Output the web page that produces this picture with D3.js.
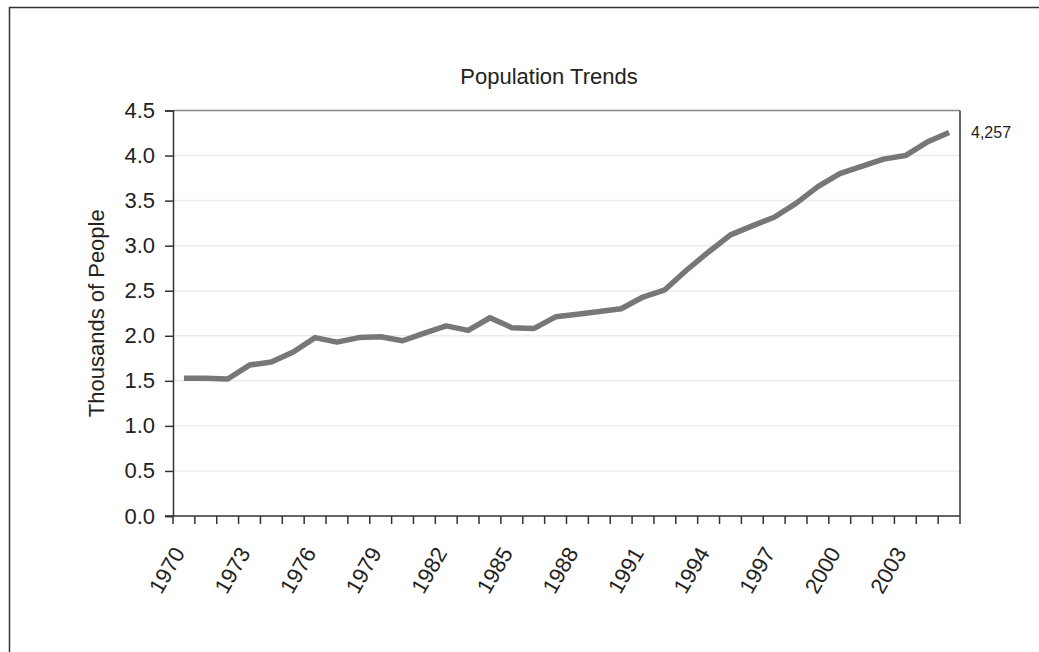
<!DOCTYPE html>
<html>
<head>
<meta charset="utf-8">
<script src="https://cdn.jsdelivr.net/npm/d3@7"></script>
<style>
  html, body { margin: 0; padding: 0; background: #fff; }
  svg { display: block; font-family: "Liberation Sans", Arial, sans-serif; }
</style>
</head>
<body>
<svg id="chart" width="1039" height="652"></svg>
<script>
// Yearly population (people); the axis shows thousands
const years = d3.range(1970, 2006);
const population = [
  1530, 1530, 1520, 1675, 1710, 1820, 1980, 1930, 1980, 1990,
  1945, 2030, 2110, 2060, 2200, 2090, 2080, 2210, 2240, 2270,
  2300, 2430, 2510, 2730, 2930, 3120, 3220, 3315, 3470, 3655,
  3800, 3880, 3960, 4000, 4150, 4257
];
const yTicks = [0, 500, 1000, 1500, 2000, 2500, 3000, 3500, 4000, 4500];
const labelYears = d3.range(1970, 2006, 3);

const svg = d3.select("#chart");
const margin = { left: 173, right: 79, top: 110.5, bottom: 136 };
const W = 1039, H = 652;
const x0 = margin.left, x1 = W - margin.right;
const y0 = H - margin.bottom, y1 = margin.top;

// Outer frame
svg.append("rect")
  .attr("x", 9.5).attr("y", 7.5)
  .attr("width", 1100).attr("height", 700)
  .attr("fill", "none").attr("stroke", "#333").attr("stroke-width", 1.5);

const x = d3.scaleBand().domain(years).range([x0, x1]);
const y = d3.scaleLinear().domain([0, 4500]).range([y0, y1]);

// Gridlines
svg.append("g").selectAll("line")
  .data(yTicks.filter(t => t > 0 && t < 4500))
  .join("line")
  .attr("x1", x0).attr("x2", x1)
  .attr("y1", d => y(d)).attr("y2", d => y(d))
  .attr("stroke", "#ececec").attr("stroke-width", 1.5);

// Plot area top and right edges
svg.append("line").attr("x1", x0).attr("x2", x1).attr("y1", y1).attr("y2", y1)
  .attr("stroke", "#888").attr("stroke-width", 1.5);
svg.append("line").attr("x1", x1).attr("x2", x1).attr("y1", y1).attr("y2", y0)
  .attr("stroke", "#333").attr("stroke-width", 1.5);

// Y axis
const yAxis = svg.append("g")
  .attr("transform", `translate(${x0},0)`)
  .call(d3.axisLeft(y).tickValues(yTicks).tickSize(8).tickPadding(10)
    .tickFormat(d => d3.format(".1f")(d / 1000)));
yAxis.select(".domain").attr("stroke", "#333").attr("stroke-width", 1.5);
yAxis.selectAll(".tick line").attr("stroke", "#333").attr("stroke-width", 1.5);
yAxis.selectAll(".tick text")
  .attr("font-size", 22).attr("fill", "#222")
  .attr("font-family", "Liberation Sans, Arial, sans-serif");

// X axis: ticks sit between categories
const xg = svg.append("g").attr("transform", `translate(0,${y0})`);
xg.append("line").attr("x1", x0 - 8).attr("x2", x1).attr("y1", 0).attr("y2", 0)
  .attr("stroke", "#333").attr("stroke-width", 1.5);
xg.selectAll("line.tk")
  .data(years.concat([2006]))
  .join("line").attr("class", "tk")
  .attr("x1", d => d === 2006 ? x1 : x(d)).attr("x2", d => d === 2006 ? x1 : x(d))
  .attr("y1", 0).attr("y2", 8)
  .attr("stroke", "#333").attr("stroke-width", 1.5);
xg.selectAll("text")
  .data(labelYears)
  .join("text")
  .attr("transform", d => `translate(${x(d) + x.bandwidth() / 2 - 5},${33}) rotate(-60)`)
  .attr("text-anchor", "end")
  .attr("dy", "0.35em")
  .attr("font-size", 22).attr("fill", "#222")
  .text(d => d);

// Series line
const line = d3.line()
  .x((d, i) => x(years[i]) + x.bandwidth() / 2)
  .y(d => y(d));
svg.append("path")
  .datum(population)
  .attr("d", line)
  .attr("fill", "none")
  .attr("stroke", "#777")
  .attr("stroke-width", 5.5)
  .attr("stroke-linejoin", "round");

// End value label
const last = population.length - 1;
svg.append("text")
  .attr("x", x1 + 11)
  .attr("y", y(population[last]))
  .attr("dy", "0.35em")
  .attr("font-size", 16).attr("fill", "#222")
  .text(d3.format(",")(population[last]));

// Title
svg.append("text")
  .attr("x", 549).attr("y", 84)
  .attr("text-anchor", "middle")
  .attr("font-size", 22).attr("fill", "#222")
  .text("Population Trends");

// Y axis title
svg.append("text")
  .attr("transform", `translate(104,${(y0 + y1) / 2}) rotate(-90)`)
  .attr("text-anchor", "middle")
  .attr("font-size", 22).attr("fill", "#222")
  .text("Thousands of People");
</script>
</body>
</html>
